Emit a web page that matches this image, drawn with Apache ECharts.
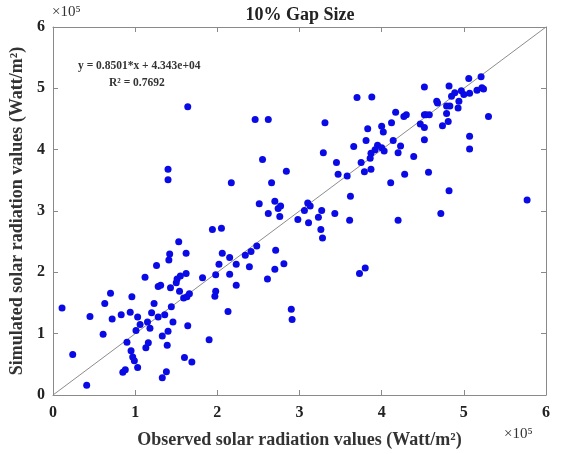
<!DOCTYPE html>
<html>
<head>
<meta charset="utf-8">
<title>10% Gap Size</title>
<script src="https://cdn.jsdelivr.net/npm/echarts@6/dist/echarts.min.js"></script>
<style>
html, body { margin: 0; padding: 0; background: #fff; }
#chart { width: 565px; height: 454px; }
</style>
</head>
<body>
<div id="chart"></div>
<script>
// observed (x) and simulated (y) values, in units of 10^5 Watt/m^2
var observed = [
  0.11, 0.24, 0.41, 0.45, 0.61, 0.63, 0.70, 0.72, 0.83, 0.85,
  0.88, 0.90, 0.94, 0.96, 0.95, 0.97, 0.99, 1.01, 1.03, 1.03,
  1.06, 1.12, 1.13, 1.15, 1.16, 1.18, 1.20, 1.23, 1.26, 1.28,
  1.28, 1.31, 1.33, 1.33, 1.36, 1.38, 1.39, 1.40, 1.41, 1.42,
  1.43, 1.44, 1.46, 1.50, 1.51, 1.53, 1.54, 1.55, 1.59, 1.60,
  1.62, 1.62, 1.63, 1.64, 1.66, 1.69, 1.82, 1.90, 1.94, 1.98,
  1.98, 1.97, 2.02, 2.05, 2.06, 2.13, 2.15, 2.15, 2.23, 2.23,
  1.64, 1.40, 1.40,
  2.46, 2.62, 3.31, 2.55, 2.84, 2.17, 2.66, 3.29, 3.45, 3.47,
  3.58, 3.62, 3.61, 2.51, 2.70, 2.62, 2.74, 2.77, 2.76, 2.98,
  3.06, 3.10, 3.13, 3.11, 3.23, 3.27, 3.43, 3.26, 3.28, 2.34,
  2.41, 2.48, 2.71, 2.39, 2.81, 2.70, 2.61,
  2.90, 2.91,
  5.06, 5.21, 4.52, 4.82, 3.70, 3.88, 4.89, 4.85, 4.97, 5.00,
  5.07, 5.16, 5.22, 5.24, 4.94, 4.67, 4.68, 4.79, 4.83, 4.93,
  4.17, 4.27, 4.30, 4.12, 4.00, 3.83, 4.02, 4.47, 4.52, 4.54,
  4.58, 4.52, 4.79, 4.81, 4.74, 5.30, 3.81, 4.14, 4.52, 3.66,
  3.95, 3.92, 4.00, 4.03, 3.87, 3.86, 4.23, 4.20, 4.39, 3.75,
  3.87, 3.79, 4.28, 4.57, 4.11, 5.07, 5.07, 4.82, 5.77, 4.72,
  4.20, 3.73, 3.80
];
var simulated = [
  1.42, 0.66, 0.16, 1.28, 0.99, 1.49, 1.66, 1.24, 1.31, 0.37,
  0.41, 0.86, 1.35, 1.60, 0.72, 0.62, 0.56, 1.05, 1.27, 0.45,
  1.15, 1.92, 0.77, 1.19, 0.85, 1.09, 1.34, 1.49, 2.11, 1.77,
  1.27, 1.79, 0.28, 0.96, 1.31, 0.38, 0.81, 1.04, 2.20, 2.30,
  1.75, 1.44, 1.19, 1.83, 1.89, 2.50, 1.69, 1.94, 1.58, 0.61,
  2.31, 1.98, 1.60, 1.13, 1.65, 0.54, 1.91, 0.90, 2.70, 1.96,
  1.69, 1.61, 2.13, 2.72, 2.31, 1.36, 1.97, 2.24, 2.13, 1.79,
  4.70, 3.68, 3.51,
  4.49, 4.49, 4.44, 3.84, 3.65, 3.46, 3.46, 3.95, 3.79, 3.60,
  3.57, 3.24, 2.85, 3.12, 3.16, 2.96, 3.04, 3.08, 2.91, 2.86,
  3.01, 3.13, 3.08, 2.81, 2.90, 3.01, 2.96, 2.70, 2.56, 2.28,
  2.34, 2.43, 2.36, 2.09, 2.14, 2.05, 1.89,
  1.40, 1.23,
  5.16, 5.19, 5.02, 5.04, 4.85, 4.86, 4.93, 4.87, 4.96, 4.90,
  4.92, 4.97, 5.01, 4.99, 4.79, 4.79, 4.76, 4.71, 4.71, 4.68,
  4.61, 4.54, 4.57, 4.44, 4.38, 4.34, 4.29, 4.42, 4.57, 4.57,
  4.57, 4.36, 4.59, 4.46, 4.39, 4.54, 4.15, 4.15, 4.16, 4.05,
  4.07, 4.00, 4.03, 3.98, 3.94, 3.86, 4.06, 3.95, 3.89, 3.79,
  3.68, 3.64, 3.60, 3.63, 3.46, 4.22, 4.01, 3.33, 3.18, 2.96,
  2.85, 1.98, 2.07
];
// 1:1 reference line
var diagonal = [[0, 0], [6, 6]];

var points = observed.map(function (x, i) { return [x, simulated[i]]; });

var serif = '"Liberation Serif", "DejaVu Serif", serif';
var frameColor = '#8a8a8a';

var chart = echarts.init(document.getElementById('chart'));

// plain copy of an axis used for the top / right edges of the box
function boxAxis(pos) {
  return {
    type: 'value', min: 0, max: 6, interval: 1, position: pos,
    axisLine: { show: true, onZero: false, lineStyle: { color: frameColor } },
    axisTick: { show: true, inside: true, length: 5, lineStyle: { color: frameColor } },
    axisLabel: { show: false },
    splitLine: { show: false }
  };
}

var option = {
  animation: false,
  backgroundColor: '#fff',
  title: {
    text: '10% Gap Size',
    left: 295,
    top: 1,
    textAlign: 'center',
    textStyle: { fontFamily: serif, fontSize: 18, fontWeight: 'bold', color: '#222' }
  },
  grid: { left: 53, right: 19, top: 27, bottom: 59 },
  xAxis: [{
    type: 'value', min: 0, max: 6, interval: 1,
    name: 'Observed solar radiation values (Watt/m²)',
    nameLocation: 'middle', nameGap: 36,
    nameTextStyle: { fontFamily: serif, fontSize: 18, fontWeight: 'bold', color: '#333' },
    axisLine: { onZero: false, lineStyle: { color: frameColor } },
    axisTick: { inside: true, length: 5, lineStyle: { color: frameColor } },
    axisLabel: { margin: 10, fontFamily: serif, fontSize: 16, fontWeight: 'bold', color: '#222' },
    splitLine: { show: false }
  }, boxAxis('top')],
  yAxis: [{
    type: 'value', min: 0, max: 6, interval: 1,
    name: 'Simulated solar radiation values (Watt/m²)',
    nameLocation: 'middle', nameGap: 25,
    nameTextStyle: { fontFamily: serif, fontSize: 18, fontWeight: 'bold', color: '#333' },
    axisLine: { show: true, onZero: false, lineStyle: { color: frameColor } },
    axisTick: { show: true, inside: true, length: 5, lineStyle: { color: frameColor } },
    axisLabel: { margin: 8, fontFamily: serif, fontSize: 16, fontWeight: 'bold', color: '#222' },
    splitLine: { show: false }
  }, boxAxis('right')],
  graphic: [{
    type: 'text', left: 52, top: 5,
    style: { text: '×10⁵', fontFamily: serif, fontSize: 15, fill: '#333' }
  }, {
    type: 'text', left: 504, top: 427,
    style: { text: '×10⁵', fontFamily: serif, fontSize: 15, fill: '#333' }
  }, {
    type: 'text', left: 78, top: 60,
    style: { text: 'y = 0.8501*x + 4.343e+04', fontFamily: serif, fontSize: 11.5, fontWeight: 'bold', fill: '#333' }
  }, {
    type: 'text', left: 109, top: 77,
    style: { text: 'R² = 0.7692', fontFamily: serif, fontSize: 11.5, fontWeight: 'bold', fill: '#333' }
  }],
  series: [{
    name: 'line',
    type: 'line',
    data: diagonal,
    showSymbol: false,
    silent: true,
    lineStyle: { color: '#8c8c8c', width: 1 },
    z: 1
  }, {
    name: 'scatter',
    type: 'scatter',
    data: points,
    symbolSize: 7,
    itemStyle: { color: '#0a0ae6', opacity: 1 },
    z: 2
  }]
};

chart.setOption(option);
</script>
</body>
</html>
